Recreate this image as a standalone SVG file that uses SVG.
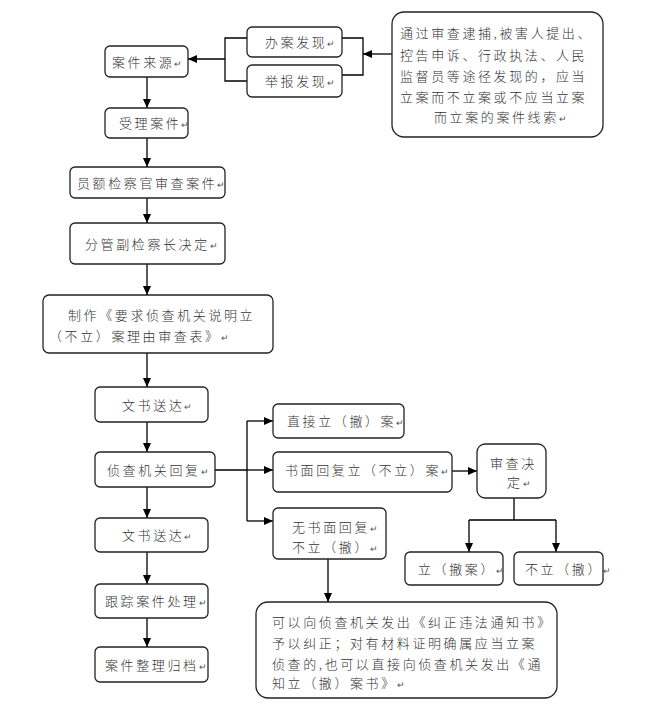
<svg xmlns="http://www.w3.org/2000/svg" width="654" height="718" viewBox="0 0 654 718">
<style>
.b{fill:#fff;stroke:#222;stroke-width:1.3}
.t{font-family:"Noto Sans CJK SC","Noto Sans",sans-serif;font-size:13px;font-weight:300;letter-spacing:2.6px;fill:#333}
.r{font-family:"DejaVu Sans",sans-serif;font-size:9px;letter-spacing:0;fill:#555}
.c{fill:none;stroke:#000;stroke-width:1.3}
</style>
<defs>
<marker id="a" markerUnits="userSpaceOnUse" markerWidth="10" markerHeight="10" refX="9" refY="4" orient="auto">
<path d="M0,0 L9,4 L0,8 z" fill="#000"/>
</marker>
</defs>
<rect width="654" height="718" fill="#fff"/>
<g id="connectors">
<path class="c" d="M247,38 H225 V81 H247"/>
<path class="c" d="M225,59 H188" marker-end="url(#a)"/>
<path class="c" d="M342,38 H363 V75 H342"/>
<path class="c" d="M392,54 H363" marker-end="url(#a)"/>
<path class="c" d="M147,77 V108" marker-end="url(#a)"/>
<path class="c" d="M147,138 V167" marker-end="url(#a)"/>
<path class="c" d="M147,198 V223" marker-end="url(#a)"/>
<path class="c" d="M147,264 V295" marker-end="url(#a)"/>
<path class="c" d="M147,353 V387" marker-end="url(#a)"/>
<path class="c" d="M147,422 V452" marker-end="url(#a)"/>
<path class="c" d="M147,487 V518" marker-end="url(#a)"/>
<path class="c" d="M147,552 V584" marker-end="url(#a)"/>
<path class="c" d="M147,618 V647" marker-end="url(#a)"/>
<path class="c" d="M215,470 H247 M247,421 V521"/>
<path class="c" d="M247,421 H273" marker-end="url(#a)"/>
<path class="c" d="M247,470 H273" marker-end="url(#a)"/>
<path class="c" d="M247,521 H273" marker-end="url(#a)"/>
<path class="c" d="M452,471 H477" marker-end="url(#a)"/>
<path class="c" d="M514,498 V520 M469,520 H556"/>
<path class="c" d="M469,520 V552" marker-end="url(#a)"/>
<path class="c" d="M556,520 V552" marker-end="url(#a)"/>
<path class="c" d="M328,559 V602" marker-end="url(#a)"/>
</g>
<g id="n_source"><rect class="b" x="105" y="46" width="83" height="31" rx="5"/><text class="t" x="112" y="66.5">案件来源<tspan class="r">↵</tspan></text></g>
<g id="n_ban"><rect class="b" x="247" y="27" width="95" height="30" rx="5"/><text class="t" x="265" y="47">办案发现<tspan class="r">↵</tspan></text></g>
<g id="n_ju"><rect class="b" x="247" y="65" width="95" height="32" rx="5"/><text class="t" x="265" y="86">举报发现<tspan class="r">↵</tspan></text></g>
<g id="n_clue"><rect class="b" x="392" y="12" width="211" height="125" rx="12"/>
<text class="t" x="400" y="38">通过审查逮捕,被害人提出、</text>
<text class="t" x="400" y="60">控告申诉、行政执法、人民</text>
<text class="t" x="400" y="81">监督员等途径发现的，应当</text>
<text class="t" x="400" y="102">立案而不立案或不应当立案</text>
<text class="t" x="434" y="122">而立案的案件线索<tspan class="r">↵</tspan></text></g>
<g id="n_accept"><rect class="b" x="105" y="108" width="83" height="30" rx="5"/><text class="t" x="119" y="128">受理案件<tspan class="r">↵</tspan></text></g>
<g id="n_review"><rect class="b" x="70" y="167" width="155" height="31" rx="5"/><text class="t" x="77" y="187.5">员额检察官审查案件<tspan class="r">↵</tspan></text></g>
<g id="n_decide"><rect class="b" x="70" y="223" width="155" height="41" rx="5"/><text class="t" x="85" y="248.5">分管副检察长决定<tspan class="r">↵</tspan></text></g>
<g id="n_make"><rect class="b" x="43" y="295" width="230" height="58" rx="6"/>
<text class="t" x="68" y="320">制作《要求侦查机关说明立</text>
<text class="t" x="49" y="341">（不立）案理由审查表》<tspan class="r">↵</tspan></text></g>
<g id="n_send1"><rect class="b" x="95" y="387" width="113" height="35" rx="5"/><text class="t" x="122" y="409.5">文书送达<tspan class="r">↵</tspan></text></g>
<g id="n_reply"><rect class="b" x="95" y="452" width="120" height="35" rx="5"/><text class="t" x="107" y="474.5">侦查机关回复<tspan class="r">↵</tspan></text></g>
<g id="n_send2"><rect class="b" x="95" y="518" width="113" height="34" rx="5"/><text class="t" x="122" y="540">文书送达<tspan class="r">↵</tspan></text></g>
<g id="n_track"><rect class="b" x="95" y="584" width="113" height="34" rx="5"/><text class="t" x="105" y="606">跟踪案件处理<tspan class="r">↵</tspan></text></g>
<g id="n_archive"><rect class="b" x="95" y="647" width="113" height="35" rx="5"/><text class="t" x="105" y="669.5">案件整理归档<tspan class="r">↵</tspan></text></g>
<g id="n_direct"><rect class="b" x="273" y="404" width="131" height="34" rx="5"/><text class="t" x="287" y="426">直接立（撤）案<tspan class="r">↵</tspan></text></g>
<g id="n_written"><rect class="b" x="273" y="452" width="179" height="40" rx="5"/><text class="t" x="285" y="475">书面回复立（不立）案<tspan class="r">↵</tspan></text></g>
<g id="n_nowritten"><rect class="b" x="273" y="508" width="113" height="51" rx="5"/>
<text class="t" x="292" y="532">无书面回复<tspan class="r">↵</tspan></text>
<text class="t" x="292" y="552">不立（撤）<tspan class="r">↵</tspan></text></g>
<g id="n_check"><rect class="b" x="477" y="444" width="69" height="54" rx="8"/>
<text class="t" x="490" y="468">审查决</text>
<text class="t" x="507" y="487">定<tspan class="r">↵</tspan></text></g>
<g id="n_li"><rect class="b" x="405" y="552" width="98" height="33" rx="5"/><text class="t" x="418" y="573.5">立（撤案）<tspan class="r">↵</tspan></text></g>
<g id="n_buli"><rect class="b" x="514" y="552" width="89" height="33" rx="5"/><text class="t" x="525" y="573.5">不立（撤）<tspan class="r">↵</tspan></text></g>
<g id="n_correct"><rect class="b" x="256" y="602" width="301" height="96" rx="12"/>
<text class="t" x="272" y="627">可以向侦查机关发出《纠正违法通知书》</text>
<text class="t" x="272" y="648">予以纠正；对有材料证明确属应当立案</text>
<text class="t" x="272" y="669">侦查的,也可以直接向侦查机关发出《通</text>
<text class="t" x="272" y="688">知立（撤）案书》<tspan class="r">↵</tspan></text></g>
</svg>
